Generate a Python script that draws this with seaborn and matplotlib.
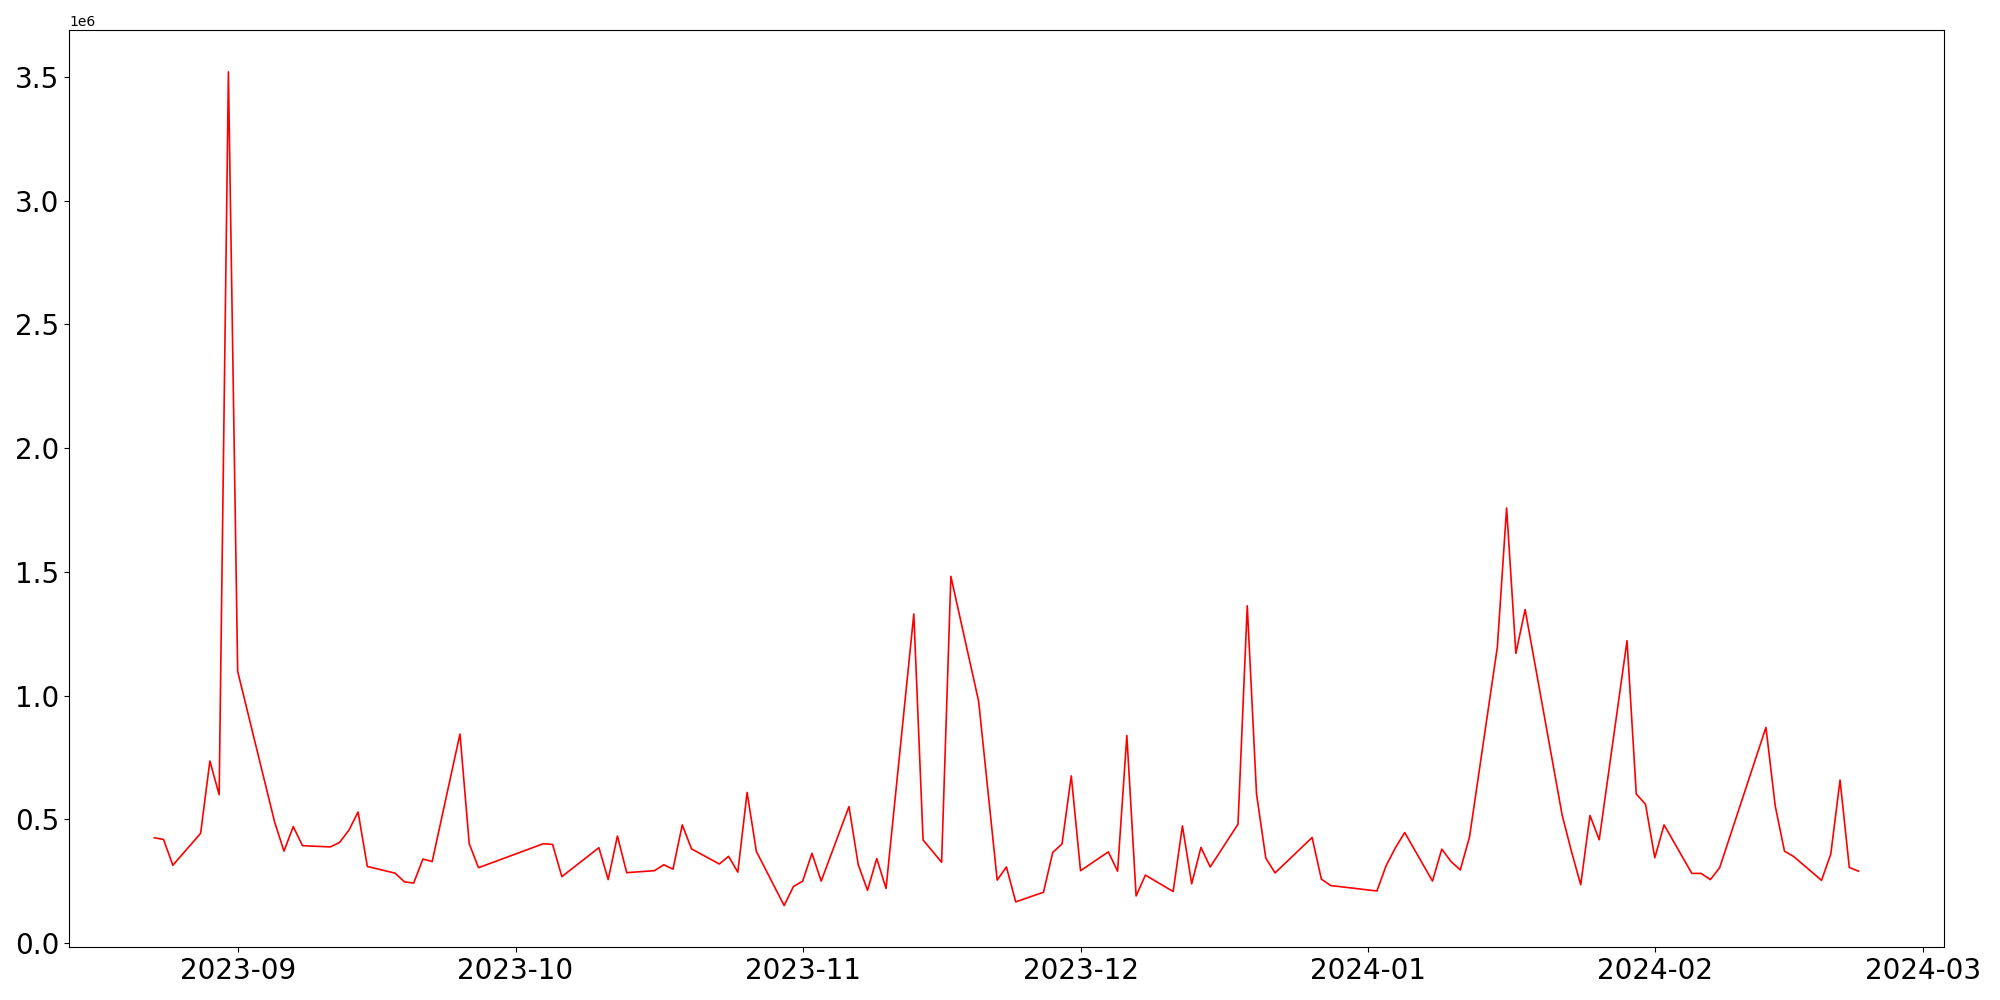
import matplotlib
matplotlib.use('Agg')
import matplotlib.pyplot as plt
import seaborn as sns
import pandas as pd

# 일별 거래량 (단위: 주) - 그림에서 읽은 값
dates = [
    '2023-08-23', '2023-08-24', '2023-08-25', '2023-08-28', '2023-08-29', '2023-08-30',
    '2023-08-31', '2023-09-01', '2023-09-05', '2023-09-06', '2023-09-07', '2023-09-08',
    '2023-09-11', '2023-09-12', '2023-09-13', '2023-09-14', '2023-09-15', '2023-09-18',
    '2023-09-19', '2023-09-20', '2023-09-21', '2023-09-22', '2023-09-25', '2023-09-26',
    '2023-09-27', '2023-10-04', '2023-10-05', '2023-10-06', '2023-10-10', '2023-10-11',
    '2023-10-12', '2023-10-13', '2023-10-16', '2023-10-17', '2023-10-18', '2023-10-19',
    '2023-10-20', '2023-10-23', '2023-10-24', '2023-10-25', '2023-10-26', '2023-10-27',
    '2023-10-30', '2023-10-31', '2023-11-01', '2023-11-02', '2023-11-03', '2023-11-06',
    '2023-11-07', '2023-11-08', '2023-11-09', '2023-11-10', '2023-11-13', '2023-11-14',
    '2023-11-16', '2023-11-17', '2023-11-20', '2023-11-22', '2023-11-23', '2023-11-24',
    '2023-11-27', '2023-11-28', '2023-11-29', '2023-11-30', '2023-12-01', '2023-12-04',
    '2023-12-05', '2023-12-06', '2023-12-07', '2023-12-08', '2023-12-11', '2023-12-12',
    '2023-12-13', '2023-12-14', '2023-12-15', '2023-12-18', '2023-12-19', '2023-12-20',
    '2023-12-21', '2023-12-22', '2023-12-26', '2023-12-27', '2023-12-28', '2024-01-02',
    '2024-01-03', '2024-01-04', '2024-01-05', '2024-01-08', '2024-01-09', '2024-01-10',
    '2024-01-11', '2024-01-12', '2024-01-15', '2024-01-16', '2024-01-17', '2024-01-18',
    '2024-01-22', '2024-01-23', '2024-01-24', '2024-01-25', '2024-01-26', '2024-01-29',
    '2024-01-30', '2024-01-31', '2024-02-01', '2024-02-02', '2024-02-05', '2024-02-06',
    '2024-02-07', '2024-02-08', '2024-02-13', '2024-02-14', '2024-02-15', '2024-02-16',
    '2024-02-19', '2024-02-20', '2024-02-21', '2024-02-22', '2024-02-23',
]
volume = [
    426000, 419000, 315000, 444000, 736000, 600000,
    3520000, 1098000, 488000, 372000, 471000, 394000,
    389000, 407000, 456000, 530000, 310000, 283000,
    248000, 243000, 340000, 330000, 845000, 402000,
    305000, 402000, 399000, 269000, 386000, 257000,
    433000, 285000, 293000, 317000, 299000, 478000,
    381000, 320000, 351000, 287000, 609000, 371000,
    152000, 229000, 251000, 363000, 251000, 552000,
    317000, 214000, 342000, 221000, 1330000, 417000,
    327000, 1482000, 977000, 255000, 308000, 167000,
    206000, 367000, 401000, 676000, 293000, 369000,
    291000, 839000, 191000, 275000, 209000, 474000,
    240000, 387000, 308000, 481000, 1363000, 603000,
    344000, 284000, 427000, 259000, 233000, 211000,
    314000, 386000, 447000, 251000, 380000, 330000,
    296000, 430000, 1196000, 1758000, 1171000, 1348000,
    517000, 371000, 236000, 516000, 418000, 1222000,
    603000, 561000, 345000, 478000, 282000, 282000,
    257000, 305000, 872000, 555000, 372000, 350000,
    254000, 360000, 659000, 306000, 291000,
]

df = pd.DataFrame({'date': pd.to_datetime(dates), 'volume': volume})

fig, ax = plt.subplots(figsize=(20, 10), dpi=100)
sns.lineplot(data=df, x='date', y='volume', color='red', linewidth=1.2, ax=ax)
ax.set_xlabel('')
ax.set_ylabel('')
ax.tick_params(axis='both', labelsize=20)
plt.tight_layout()
plt.savefig('out.png')
